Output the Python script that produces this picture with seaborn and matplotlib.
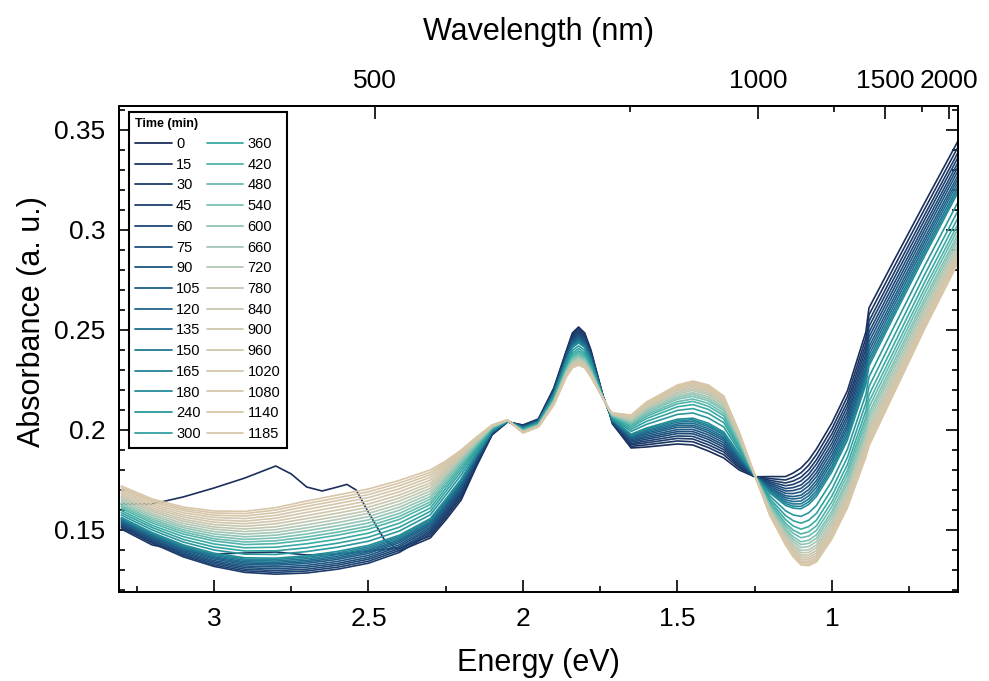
import matplotlib
matplotlib.use("Agg")
import matplotlib.pyplot as plt
from matplotlib.colors import LinearSegmentedColormap
from matplotlib.lines import Line2D
from matplotlib.ticker import FixedLocator, MultipleLocator, FuncFormatter
import pandas as pd
import seaborn as sns

# ---------------------------------------------------------------- data
time_min = [0, 15, 30, 45, 60, 75, 90, 105, 120, 135, 150, 165, 180, 240, 300,
            360, 420, 480, 540, 600, 660, 720, 780, 840, 900, 960, 1020, 1080, 1140, 1185]

energy_ev = [3.30, 3.20, 3.10, 3.00, 2.90, 2.80, 2.70, 2.60, 2.50, 2.40, 2.30, 2.25,
             2.20, 2.15, 2.10, 2.05, 2.00, 1.95, 1.90, 1.86, 1.84, 1.82, 1.80, 1.78,
             1.74, 1.72, 1.71, 1.65, 1.60, 1.50, 1.45, 1.40, 1.35, 1.30, 1.25, 1.20,
             1.15, 1.125, 1.10, 1.075, 1.05, 1.00, 0.95, 0.89, 0.88, 0.80, 0.70, 0.59]

# absorbance at each energy, one value per scan (same order as time_min)
abs_330 = [0.1630, 0.1505, 0.1513, 0.1519, 0.1524, 0.1530, 0.1535, 0.1541, 0.1545, 0.1550, 0.1554, 0.1558, 0.1563, 0.1575, 0.1586, 0.1597, 0.1608, 0.1617, 0.1625, 0.1634, 0.1643, 0.1652, 0.1661, 0.1669, 0.1678, 0.1687, 0.1696, 0.1705, 0.1712, 0.1720]
abs_320 = [0.1630, 0.1425, 0.1434, 0.1440, 0.1446, 0.1452, 0.1458, 0.1464, 0.1468, 0.1473, 0.1478, 0.1482, 0.1487, 0.1500, 0.1512, 0.1523, 0.1535, 0.1545, 0.1554, 0.1563, 0.1573, 0.1582, 0.1592, 0.1601, 0.1610, 0.1620, 0.1629, 0.1639, 0.1647, 0.1655]
abs_310 = [0.1665, 0.1395, 0.1366, 0.1373, 0.1379, 0.1386, 0.1392, 0.1399, 0.1404, 0.1410, 0.1415, 0.1420, 0.1426, 0.1440, 0.1453, 0.1467, 0.1480, 0.1491, 0.1501, 0.1512, 0.1522, 0.1533, 0.1544, 0.1554, 0.1565, 0.1575, 0.1586, 0.1597, 0.1606, 0.1615]
abs_300 = [0.1710, 0.1380, 0.1318, 0.1325, 0.1333, 0.1340, 0.1347, 0.1355, 0.1361, 0.1366, 0.1372, 0.1378, 0.1384, 0.1400, 0.1415, 0.1430, 0.1445, 0.1456, 0.1468, 0.1480, 0.1492, 0.1504, 0.1515, 0.1527, 0.1539, 0.1551, 0.1563, 0.1574, 0.1585, 0.1595]
abs_290 = [0.1760, 0.1385, 0.1288, 0.1296, 0.1304, 0.1312, 0.1320, 0.1328, 0.1335, 0.1341, 0.1348, 0.1354, 0.1361, 0.1379, 0.1395, 0.1411, 0.1427, 0.1440, 0.1453, 0.1466, 0.1479, 0.1492, 0.1505, 0.1518, 0.1531, 0.1544, 0.1557, 0.1570, 0.1582, 0.1593]
abs_280 = [0.1820, 0.1390, 0.1279, 0.1288, 0.1297, 0.1306, 0.1315, 0.1324, 0.1331, 0.1338, 0.1345, 0.1352, 0.1359, 0.1378, 0.1396, 0.1414, 0.1432, 0.1446, 0.1460, 0.1474, 0.1488, 0.1502, 0.1516, 0.1531, 0.1545, 0.1559, 0.1573, 0.1587, 0.1600, 0.1612]
abs_270 = [0.1715, 0.1375, 0.1285, 0.1295, 0.1304, 0.1314, 0.1323, 0.1333, 0.1341, 0.1348, 0.1356, 0.1364, 0.1371, 0.1392, 0.1411, 0.1431, 0.1450, 0.1465, 0.1480, 0.1496, 0.1511, 0.1526, 0.1542, 0.1557, 0.1572, 0.1588, 0.1603, 0.1618, 0.1632, 0.1645]
abs_260 = [0.1715, 0.1380, 0.1304, 0.1314, 0.1324, 0.1333, 0.1343, 0.1353, 0.1361, 0.1369, 0.1377, 0.1385, 0.1393, 0.1414, 0.1434, 0.1454, 0.1474, 0.1489, 0.1505, 0.1521, 0.1537, 0.1553, 0.1568, 0.1584, 0.1600, 0.1616, 0.1632, 0.1647, 0.1661, 0.1675]
abs_250 = [0.1588, 0.1395, 0.1334, 0.1344, 0.1354, 0.1363, 0.1373, 0.1383, 0.1391, 0.1399, 0.1407, 0.1415, 0.1423, 0.1444, 0.1464, 0.1484, 0.1504, 0.1519, 0.1535, 0.1551, 0.1567, 0.1583, 0.1598, 0.1614, 0.1630, 0.1646, 0.1662, 0.1677, 0.1691, 0.1705]
abs_240 = [0.1395, 0.1410, 0.1388, 0.1398, 0.1407, 0.1417, 0.1426, 0.1436, 0.1444, 0.1451, 0.1459, 0.1467, 0.1474, 0.1495, 0.1514, 0.1534, 0.1553, 0.1568, 0.1583, 0.1599, 0.1614, 0.1629, 0.1645, 0.1660, 0.1675, 0.1691, 0.1706, 0.1721, 0.1735, 0.1748]
abs_230 = [0.1460, 0.1470, 0.1480, 0.1489, 0.1497, 0.1506, 0.1514, 0.1523, 0.1530, 0.1537, 0.1543, 0.1550, 0.1557, 0.1576, 0.1593, 0.1610, 0.1627, 0.1640, 0.1654, 0.1667, 0.1681, 0.1695, 0.1708, 0.1722, 0.1735, 0.1749, 0.1763, 0.1776, 0.1788, 0.1800]
abs_225 = [0.1550, 0.1562, 0.1573, 0.1583, 0.1592, 0.1601, 0.1610, 0.1619, 0.1626, 0.1633, 0.1641, 0.1647, 0.1654, 0.1674, 0.1692, 0.1708, 0.1723, 0.1734, 0.1746, 0.1757, 0.1767, 0.1777, 0.1787, 0.1796, 0.1805, 0.1814, 0.1823, 0.1831, 0.1838, 0.1845]
abs_220 = [0.1650, 0.1663, 0.1674, 0.1684, 0.1694, 0.1703, 0.1711, 0.1720, 0.1728, 0.1735, 0.1743, 0.1749, 0.1755, 0.1775, 0.1793, 0.1808, 0.1820, 0.1830, 0.1840, 0.1848, 0.1855, 0.1863, 0.1869, 0.1875, 0.1880, 0.1885, 0.1890, 0.1894, 0.1897, 0.1900]
abs_215 = [0.1820, 0.1827, 0.1834, 0.1840, 0.1845, 0.1851, 0.1856, 0.1861, 0.1865, 0.1869, 0.1874, 0.1877, 0.1881, 0.1893, 0.1903, 0.1911, 0.1919, 0.1924, 0.1930, 0.1935, 0.1939, 0.1943, 0.1947, 0.1951, 0.1953, 0.1956, 0.1959, 0.1961, 0.1963, 0.1965]
abs_210 = [0.1975, 0.1978, 0.1980, 0.1982, 0.1984, 0.1986, 0.1987, 0.1989, 0.1991, 0.1992, 0.1994, 0.1995, 0.1996, 0.2000, 0.2004, 0.2007, 0.2009, 0.2011, 0.2013, 0.2015, 0.2016, 0.2018, 0.2019, 0.2020, 0.2021, 0.2022, 0.2023, 0.2024, 0.2024, 0.2025]
abs_205 = [0.2040, 0.2041, 0.2041, 0.2041, 0.2042, 0.2042, 0.2042, 0.2043, 0.2043, 0.2043, 0.2044, 0.2044, 0.2044, 0.2045, 0.2046, 0.2046, 0.2047, 0.2047, 0.2048, 0.2048, 0.2048, 0.2049, 0.2049, 0.2049, 0.2049, 0.2049, 0.2050, 0.2050, 0.2050, 0.2050]
abs_200 = [0.2025, 0.2023, 0.2021, 0.2020, 0.2018, 0.2017, 0.2015, 0.2014, 0.2013, 0.2011, 0.2010, 0.2009, 0.2008, 0.2005, 0.2002, 0.2000, 0.1998, 0.1996, 0.1995, 0.1993, 0.1992, 0.1991, 0.1990, 0.1989, 0.1988, 0.1987, 0.1987, 0.1986, 0.1986, 0.1985]
abs_195 = [0.2055, 0.2053, 0.2051, 0.2050, 0.2048, 0.2047, 0.2045, 0.2044, 0.2043, 0.2041, 0.2040, 0.2039, 0.2038, 0.2035, 0.2032, 0.2030, 0.2028, 0.2026, 0.2025, 0.2023, 0.2022, 0.2021, 0.2020, 0.2019, 0.2018, 0.2017, 0.2017, 0.2016, 0.2016, 0.2015]
abs_190 = [0.2210, 0.2206, 0.2202, 0.2199, 0.2195, 0.2192, 0.2189, 0.2186, 0.2184, 0.2181, 0.2179, 0.2176, 0.2174, 0.2168, 0.2162, 0.2156, 0.2152, 0.2149, 0.2145, 0.2143, 0.2140, 0.2138, 0.2136, 0.2134, 0.2132, 0.2130, 0.2129, 0.2127, 0.2126, 0.2125]
abs_186 = [0.2395, 0.2389, 0.2383, 0.2377, 0.2372, 0.2368, 0.2363, 0.2359, 0.2355, 0.2351, 0.2347, 0.2344, 0.2340, 0.2330, 0.2321, 0.2313, 0.2307, 0.2301, 0.2296, 0.2292, 0.2288, 0.2285, 0.2281, 0.2278, 0.2275, 0.2273, 0.2271, 0.2268, 0.2267, 0.2265]
abs_184 = [0.2485, 0.2476, 0.2468, 0.2461, 0.2454, 0.2448, 0.2442, 0.2436, 0.2431, 0.2425, 0.2420, 0.2416, 0.2412, 0.2398, 0.2385, 0.2375, 0.2366, 0.2359, 0.2352, 0.2347, 0.2342, 0.2336, 0.2332, 0.2328, 0.2324, 0.2321, 0.2317, 0.2315, 0.2312, 0.2310]
abs_182 = [0.2515, 0.2506, 0.2497, 0.2489, 0.2482, 0.2475, 0.2468, 0.2462, 0.2456, 0.2450, 0.2445, 0.2440, 0.2435, 0.2420, 0.2407, 0.2395, 0.2386, 0.2378, 0.2371, 0.2365, 0.2359, 0.2354, 0.2349, 0.2344, 0.2340, 0.2336, 0.2333, 0.2330, 0.2327, 0.2325]
abs_180 = [0.2485, 0.2476, 0.2468, 0.2461, 0.2454, 0.2448, 0.2442, 0.2436, 0.2431, 0.2425, 0.2420, 0.2416, 0.2412, 0.2398, 0.2385, 0.2375, 0.2366, 0.2359, 0.2352, 0.2347, 0.2342, 0.2336, 0.2332, 0.2328, 0.2324, 0.2321, 0.2317, 0.2315, 0.2312, 0.2310]
abs_178 = [0.2400, 0.2393, 0.2387, 0.2382, 0.2376, 0.2372, 0.2367, 0.2362, 0.2358, 0.2354, 0.2350, 0.2347, 0.2343, 0.2333, 0.2323, 0.2315, 0.2308, 0.2303, 0.2297, 0.2293, 0.2289, 0.2285, 0.2282, 0.2279, 0.2276, 0.2273, 0.2271, 0.2269, 0.2267, 0.2265]
abs_174 = [0.2165, 0.2165, 0.2164, 0.2164, 0.2163, 0.2163, 0.2163, 0.2162, 0.2162, 0.2162, 0.2161, 0.2161, 0.2161, 0.2160, 0.2159, 0.2159, 0.2158, 0.2158, 0.2157, 0.2157, 0.2157, 0.2157, 0.2156, 0.2156, 0.2156, 0.2156, 0.2155, 0.2155, 0.2155, 0.2155]
abs_172 = [0.2085, 0.2086, 0.2086, 0.2087, 0.2088, 0.2088, 0.2089, 0.2089, 0.2090, 0.2090, 0.2091, 0.2091, 0.2091, 0.2093, 0.2094, 0.2095, 0.2095, 0.2096, 0.2096, 0.2097, 0.2097, 0.2098, 0.2098, 0.2099, 0.2099, 0.2099, 0.2099, 0.2100, 0.2100, 0.2100]
abs_171 = [0.2030, 0.2033, 0.2035, 0.2037, 0.2040, 0.2042, 0.2044, 0.2045, 0.2047, 0.2049, 0.2050, 0.2052, 0.2053, 0.2058, 0.2061, 0.2065, 0.2067, 0.2070, 0.2072, 0.2074, 0.2075, 0.2077, 0.2078, 0.2080, 0.2081, 0.2082, 0.2083, 0.2084, 0.2084, 0.2085]
abs_165 = [0.1910, 0.1918, 0.1926, 0.1932, 0.1939, 0.1945, 0.1950, 0.1956, 0.1961, 0.1966, 0.1971, 0.1975, 0.1979, 0.1993, 0.2004, 0.2014, 0.2022, 0.2029, 0.2035, 0.2040, 0.2045, 0.2050, 0.2054, 0.2059, 0.2062, 0.2065, 0.2068, 0.2071, 0.2073, 0.2075]
abs_160 = [0.1915, 0.1926, 0.1936, 0.1945, 0.1954, 0.1962, 0.1970, 0.1978, 0.1985, 0.1992, 0.1998, 0.2004, 0.2010, 0.2028, 0.2043, 0.2057, 0.2068, 0.2077, 0.2086, 0.2093, 0.2100, 0.2106, 0.2112, 0.2118, 0.2122, 0.2127, 0.2131, 0.2134, 0.2137, 0.2140]
abs_150 = [0.1930, 0.1945, 0.1958, 0.1970, 0.1982, 0.1992, 0.2002, 0.2013, 0.2022, 0.2030, 0.2039, 0.2047, 0.2054, 0.2078, 0.2098, 0.2116, 0.2131, 0.2142, 0.2154, 0.2163, 0.2172, 0.2181, 0.2188, 0.2196, 0.2201, 0.2207, 0.2213, 0.2217, 0.2222, 0.2225]
abs_145 = [0.1925, 0.1941, 0.1955, 0.1968, 0.1981, 0.1992, 0.2003, 0.2015, 0.2024, 0.2034, 0.2043, 0.2051, 0.2059, 0.2085, 0.2107, 0.2127, 0.2143, 0.2155, 0.2168, 0.2178, 0.2187, 0.2197, 0.2205, 0.2213, 0.2219, 0.2226, 0.2232, 0.2237, 0.2241, 0.2245]
abs_140 = [0.1895, 0.1912, 0.1926, 0.1940, 0.1953, 0.1964, 0.1976, 0.1987, 0.1997, 0.2007, 0.2017, 0.2025, 0.2034, 0.2060, 0.2083, 0.2103, 0.2119, 0.2133, 0.2146, 0.2156, 0.2166, 0.2176, 0.2184, 0.2192, 0.2199, 0.2205, 0.2211, 0.2216, 0.2221, 0.2225]
abs_135 = [0.1860, 0.1876, 0.1890, 0.1902, 0.1914, 0.1925, 0.1936, 0.1947, 0.1956, 0.1965, 0.1975, 0.1983, 0.1990, 0.2015, 0.2037, 0.2055, 0.2071, 0.2083, 0.2096, 0.2105, 0.2114, 0.2124, 0.2131, 0.2139, 0.2145, 0.2151, 0.2157, 0.2162, 0.2166, 0.2170]
abs_130 = [0.1800, 0.1810, 0.1818, 0.1826, 0.1833, 0.1840, 0.1847, 0.1853, 0.1859, 0.1865, 0.1870, 0.1875, 0.1880, 0.1895, 0.1908, 0.1920, 0.1929, 0.1937, 0.1944, 0.1950, 0.1956, 0.1962, 0.1966, 0.1971, 0.1975, 0.1979, 0.1982, 0.1985, 0.1988, 0.1990]
abs_125 = [0.1766, 0.1767, 0.1767, 0.1768, 0.1768, 0.1769, 0.1769, 0.1770, 0.1770, 0.1770, 0.1771, 0.1771, 0.1771, 0.1772, 0.1772, 0.1773, 0.1773, 0.1773, 0.1774, 0.1774, 0.1774, 0.1774, 0.1775, 0.1775, 0.1775, 0.1775, 0.1775, 0.1775, 0.1775, 0.1775]
abs_120 = [0.1767, 0.1757, 0.1748, 0.1740, 0.1733, 0.1726, 0.1719, 0.1712, 0.1706, 0.1700, 0.1694, 0.1689, 0.1684, 0.1669, 0.1655, 0.1643, 0.1633, 0.1625, 0.1617, 0.1611, 0.1606, 0.1600, 0.1595, 0.1590, 0.1586, 0.1582, 0.1578, 0.1575, 0.1572, 0.1570]
abs_115 = [0.1767, 0.1750, 0.1735, 0.1721, 0.1707, 0.1695, 0.1683, 0.1671, 0.1661, 0.1651, 0.1641, 0.1632, 0.1623, 0.1596, 0.1572, 0.1552, 0.1534, 0.1521, 0.1507, 0.1497, 0.1487, 0.1476, 0.1468, 0.1459, 0.1452, 0.1446, 0.1439, 0.1434, 0.1429, 0.1425]
abs_1125 = [0.1785, 0.1764, 0.1745, 0.1728, 0.1712, 0.1697, 0.1682, 0.1667, 0.1655, 0.1642, 0.1630, 0.1619, 0.1609, 0.1575, 0.1546, 0.1520, 0.1499, 0.1483, 0.1466, 0.1453, 0.1441, 0.1428, 0.1418, 0.1407, 0.1399, 0.1390, 0.1383, 0.1376, 0.1370, 0.1365]
abs_110 = [0.1810, 0.1786, 0.1764, 0.1745, 0.1725, 0.1708, 0.1691, 0.1674, 0.1660, 0.1645, 0.1631, 0.1618, 0.1606, 0.1568, 0.1534, 0.1504, 0.1480, 0.1461, 0.1441, 0.1427, 0.1412, 0.1398, 0.1386, 0.1374, 0.1364, 0.1354, 0.1345, 0.1338, 0.1331, 0.1325]
abs_1075 = [0.1850, 0.1824, 0.1800, 0.1779, 0.1758, 0.1739, 0.1721, 0.1702, 0.1686, 0.1671, 0.1655, 0.1641, 0.1628, 0.1586, 0.1549, 0.1517, 0.1491, 0.1470, 0.1449, 0.1433, 0.1417, 0.1401, 0.1388, 0.1375, 0.1364, 0.1354, 0.1344, 0.1336, 0.1328, 0.1322]
abs_105 = [0.1905, 0.1877, 0.1851, 0.1829, 0.1806, 0.1786, 0.1767, 0.1747, 0.1730, 0.1713, 0.1696, 0.1682, 0.1668, 0.1623, 0.1583, 0.1549, 0.1521, 0.1498, 0.1476, 0.1459, 0.1442, 0.1425, 0.1411, 0.1397, 0.1385, 0.1374, 0.1364, 0.1355, 0.1347, 0.1340]
abs_100 = [0.2035, 0.2006, 0.1980, 0.1957, 0.1934, 0.1913, 0.1893, 0.1873, 0.1855, 0.1838, 0.1820, 0.1806, 0.1791, 0.1745, 0.1704, 0.1670, 0.1641, 0.1617, 0.1594, 0.1577, 0.1559, 0.1542, 0.1528, 0.1513, 0.1501, 0.1490, 0.1479, 0.1470, 0.1462, 0.1455]
abs_095 = [0.2195, 0.2166, 0.2139, 0.2116, 0.2093, 0.2072, 0.2052, 0.2031, 0.2014, 0.1996, 0.1979, 0.1964, 0.1949, 0.1903, 0.1862, 0.1826, 0.1797, 0.1774, 0.1750, 0.1733, 0.1715, 0.1698, 0.1683, 0.1669, 0.1657, 0.1645, 0.1635, 0.1625, 0.1617, 0.1610]
abs_089 = [0.2490, 0.2459, 0.2431, 0.2406, 0.2381, 0.2359, 0.2337, 0.2315, 0.2296, 0.2278, 0.2259, 0.2243, 0.2228, 0.2178, 0.2134, 0.2096, 0.2065, 0.2040, 0.2015, 0.1996, 0.1978, 0.1959, 0.1943, 0.1928, 0.1915, 0.1903, 0.1891, 0.1881, 0.1873, 0.1865]
abs_088 = [0.2610, 0.2576, 0.2544, 0.2517, 0.2489, 0.2465, 0.2441, 0.2417, 0.2396, 0.2375, 0.2355, 0.2337, 0.2320, 0.2265, 0.2217, 0.2175, 0.2141, 0.2113, 0.2086, 0.2065, 0.2044, 0.2024, 0.2006, 0.1989, 0.1975, 0.1961, 0.1949, 0.1938, 0.1928, 0.1920]
abs_080 = [0.2845, 0.2812, 0.2782, 0.2755, 0.2729, 0.2705, 0.2682, 0.2659, 0.2639, 0.2619, 0.2599, 0.2582, 0.2566, 0.2513, 0.2466, 0.2426, 0.2393, 0.2366, 0.2340, 0.2320, 0.2300, 0.2280, 0.2263, 0.2247, 0.2233, 0.2220, 0.2208, 0.2197, 0.2188, 0.2180]
abs_070 = [0.3135, 0.3104, 0.3075, 0.3050, 0.3025, 0.3003, 0.2981, 0.2959, 0.2940, 0.2921, 0.2902, 0.2886, 0.2870, 0.2820, 0.2776, 0.2738, 0.2707, 0.2681, 0.2656, 0.2637, 0.2618, 0.2600, 0.2584, 0.2568, 0.2555, 0.2543, 0.2532, 0.2521, 0.2513, 0.2505]
abs_059 = [0.3450, 0.3420, 0.3392, 0.3368, 0.3343, 0.3322, 0.3301, 0.3279, 0.3261, 0.3243, 0.3224, 0.3209, 0.3194, 0.3145, 0.3102, 0.3066, 0.3035, 0.3011, 0.2986, 0.2968, 0.2950, 0.2932, 0.2916, 0.2901, 0.2889, 0.2877, 0.2866, 0.2856, 0.2847, 0.2840]

absorbance_by_energy = [
    abs_330, abs_320, abs_310, abs_300, abs_290, abs_280, abs_270, abs_260, abs_250,
    abs_240, abs_230, abs_225, abs_220, abs_215, abs_210, abs_205, abs_200, abs_195,
    abs_190, abs_186, abs_184, abs_182, abs_180, abs_178, abs_174, abs_172, abs_171,
    abs_165, abs_160, abs_150, abs_145, abs_140, abs_135, abs_130, abs_125, abs_120,
    abs_115, abs_1125, abs_110, abs_1075, abs_105, abs_100, abs_095, abs_089, abs_088,
    abs_080, abs_070, abs_059,
]

# the first scan carries a few extra points across its blue-region feature
first_scan_extra_energy = [2.75, 2.65, 2.57, 2.54, 2.45]
first_scan_extra_abs = [0.1780, 0.1695, 0.1728, 0.1700, 0.1455]

wavelength_major = [500, 1000, 1500, 2000]
wavelength_minor = [750, 1250, 1750]

assert len(energy_ev) == len(absorbance_by_energy)
assert all(len(col) == len(time_min) for col in absorbance_by_energy)

# ---------------------------------------------------------------- table
rows = []
for e, col in zip(energy_ev, absorbance_by_energy):
    for t, a in zip(time_min, col):
        rows.append((t, e, a))
for e, a in zip(first_scan_extra_energy, first_scan_extra_abs):
    rows.append((time_min[0], e, a))
df = pd.DataFrame(rows, columns=["time", "energy", "absorbance"])

# ---------------------------------------------------------------- style
sns.set_style("ticks")
plt.rcParams["font.family"] = ["Liberation Sans", "DejaVu Sans"]
plt.rcParams["axes.linewidth"] = 1.3
for key in ("text.color", "axes.labelcolor", "xtick.color", "ytick.color",
            "axes.edgecolor"):
    plt.rcParams[key] = "black"

cmap = LinearSegmentedColormap.from_list(
    "navy_teal_sand",
    [(0.00, "#1b2f5c"), (0.15, "#1d4a7a"), (0.30, "#1f6b8e"), (0.42, "#23909a"),
     (0.52, "#3aaca4"), (0.62, "#7cc2b4"), (0.72, "#b4c8b5"), (0.82, "#d0c6ac"),
     (1.00, "#d8c6a8")],
)
n = len(time_min)
color_of = {t: cmap(i / (n - 1)) for i, t in enumerate(time_min)}

# ---------------------------------------------------------------- figure
fig = plt.figure(figsize=(9.89, 6.81), dpi=100)
ax = fig.add_axes([0.1208, 0.1307, 0.8478, 0.7137])

sns.lineplot(data=df, x="energy", y="absorbance", hue="time", hue_order=time_min,
             palette=color_of, estimator=None, sort=True, linewidth=1.2,
             legend=False, ax=ax)

ax.set_xlim(3.306, 0.592)
ax.set_ylim(0.119, 0.362)

fmt = FuncFormatter(lambda v, _: f"{v:g}")
ax.xaxis.set_major_locator(MultipleLocator(0.5))
ax.xaxis.set_minor_locator(MultipleLocator(0.25))
ax.yaxis.set_major_locator(MultipleLocator(0.05))
ax.yaxis.set_minor_locator(MultipleLocator(0.01))
ax.xaxis.set_major_formatter(fmt)
ax.yaxis.set_major_formatter(fmt)

ax.tick_params(which="both", direction="in", top=False, right=True, width=1.2,
               labelsize=19)
ax.tick_params(which="major", length=9)
ax.tick_params(which="minor", length=4.5)
ax.tick_params(axis="x", pad=11)
ax.tick_params(axis="y", pad=10)

ax.set_xlabel("Energy (eV)", fontsize=22, labelpad=12)
ax.set_ylabel("Absorbance (a. u.)", fontsize=22)
ax.yaxis.set_label_coords(-0.086, 0.556)

# wavelength scale on top
ax_top = ax.twiny()
ax_top.set_xlim(ax.get_xlim())
ax_top.xaxis.set_major_locator(FixedLocator([1239.84 / w for w in wavelength_major]))
ax_top.xaxis.set_minor_locator(FixedLocator([1239.84 / w for w in wavelength_minor]))
ax_top.set_xticklabels([str(w) for w in wavelength_major])
ax_top.tick_params(which="both", direction="in", width=1.2, labelsize=19, pad=9)
ax_top.tick_params(which="major", length=9)
ax_top.tick_params(which="minor", length=4.5)
ax_top.set_xlabel("Wavelength (nm)", fontsize=22, labelpad=21)
for sp in ax_top.spines.values():
    sp.set_linewidth(1.3)

# legend
handles = [Line2D([0], [0], color=color_of[t], lw=1.3) for t in time_min]
leg = ax.legend(handles, [str(t) for t in time_min], ncol=2, loc="upper left",
                bbox_to_anchor=(0.011, 0.988), borderaxespad=0, frameon=True,
                fancybox=False, edgecolor="black", framealpha=1, fontsize=10.5,
                title="Time (min)", title_fontproperties={"weight": "bold", "size": 9},
                alignment="left", handlelength=2.5, handletextpad=0.3,
                columnspacing=0.4, labelspacing=0.46, borderpad=0.45)
leg.get_frame().set_linewidth(1.5)

fig.savefig("out.png", dpi=100)
